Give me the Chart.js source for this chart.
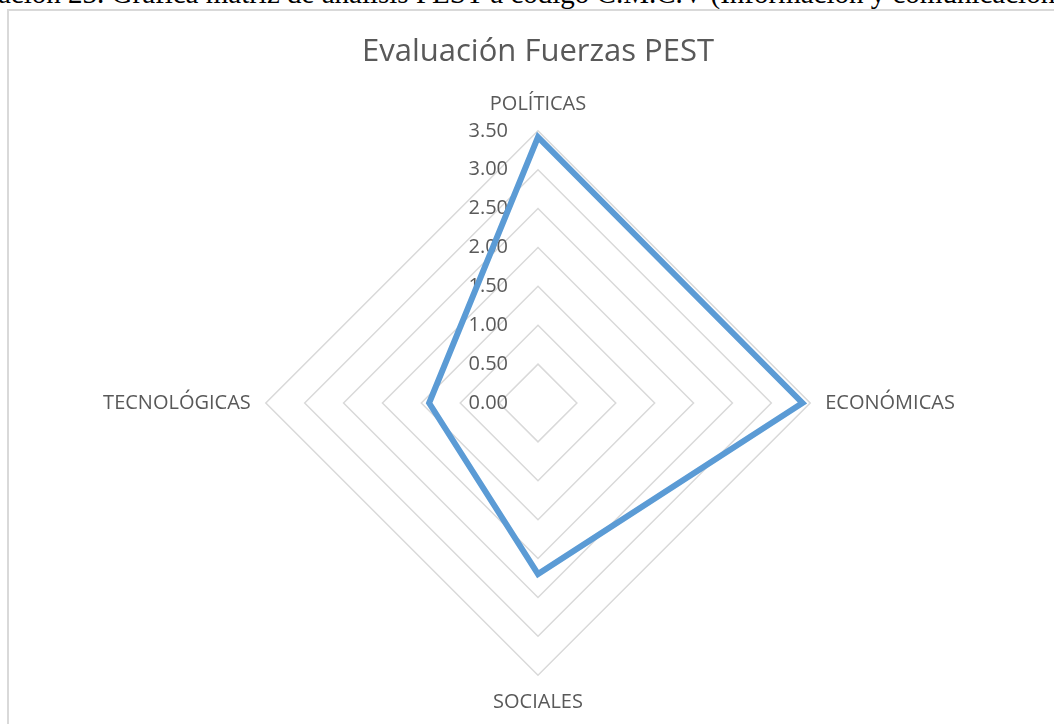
<!DOCTYPE html>
<html>
<head>
<meta charset="utf-8">
<script src="https://cdn.jsdelivr.net/npm/chart.js@4"></script>
<style>
  html, body { margin: 0; padding: 0; width: 1054px; height: 724px; overflow: hidden; background: #fff; }
  #caption { position: absolute; left: -2px; top: -21px; font-family: "Liberation Serif", serif; font-size: 29px; line-height: 29px; color: #000; white-space: nowrap; }
  #frame { position: absolute; left: 7px; top: 9px; width: 1200px; height: 900px; border: 2px solid #d9d9d9; box-sizing: border-box; }
  #wrap { position: absolute; left: 0; top: 0; width: 1054px; height: 724px; }
</style>
</head>
<body>
<div id="caption">ación 23. Gráfica matriz de análisis PEST a código C.M.C.V (Información y comunicación)</div>
<div id="frame"></div>
<div id="wrap"><canvas id="c"></canvas></div>
<script>
const categories = ["POLÍTICAS", "ECONÓMICAS", "SOCIALES", "TECNOLÓGICAS"];
const seriesValues = [3.42, 3.4, 2.2, 1.4];
const tickValues = [0, 0.5, 1, 1.5, 2, 2.5, 3, 3.5];
const chartTitle = "Evaluación Fuerzas PEST";

const textColor = "#595959";
const fontFamily = "'Open Sans', sans-serif";

const tickLabelPlugin = {
  id: 'tickLabelsLeft',
  beforeDatasetsDraw(chart) {
    const scale = chart.scales.r;
    const ctx = chart.ctx;
    ctx.save();
    ctx.font = "20px " + fontFamily;
    ctx.fillStyle = textColor;
    ctx.textAlign = 'right';
    ctx.textBaseline = 'middle';
    scale.ticks.forEach(t => {
      const d = scale.getDistanceFromCenterForValue(t.value);
      ctx.fillText(Number(t.value).toFixed(2), scale.xCenter - 30, scale.yCenter - d);
    });
    ctx.restore();
  }
};

new Chart(document.getElementById('c'), {
  type: 'radar',
  data: {
    labels: categories,
    datasets: [{
      label: 'Evaluación',
      data: seriesValues,
      borderColor: '#5B9BD5',
      borderWidth: 6,
      borderJoinStyle: 'miter',
      fill: false,
      pointRadius: 0,
      pointHoverRadius: 0,
      tension: 0
    }]
  },
  options: {
    responsive: true,
    maintainAspectRatio: false,
    animation: false,
    layout: { padding: { left: 22, right: 0, top: 0, bottom: 8 } },
    plugins: {
      legend: { display: false },
      tooltip: { enabled: false },
      title: {
        display: true,
        text: chartTitle,
        color: textColor,
        font: { family: fontFamily, size: 31, weight: 'normal' },
        padding: { top: 33.4, bottom: 21.2 }
      }
    },
    scales: {
      r: {
        min: 0,
        max: 3.5,
        afterBuildTicks(scale) { scale.ticks = tickValues.map(v => ({ value: v })); },
        ticks: { display: false, stepSize: 0.5 },
        grid: { circular: false, color: '#d9d9d9', lineWidth: 1.5 },
        angleLines: { display: false },
        pointLabels: {
          color: textColor,
          padding: 15,
          font: { family: fontFamily, size: 20 }
        }
      }
    }
  },
  plugins: [tickLabelPlugin]
});
</script>
</body>
</html>
